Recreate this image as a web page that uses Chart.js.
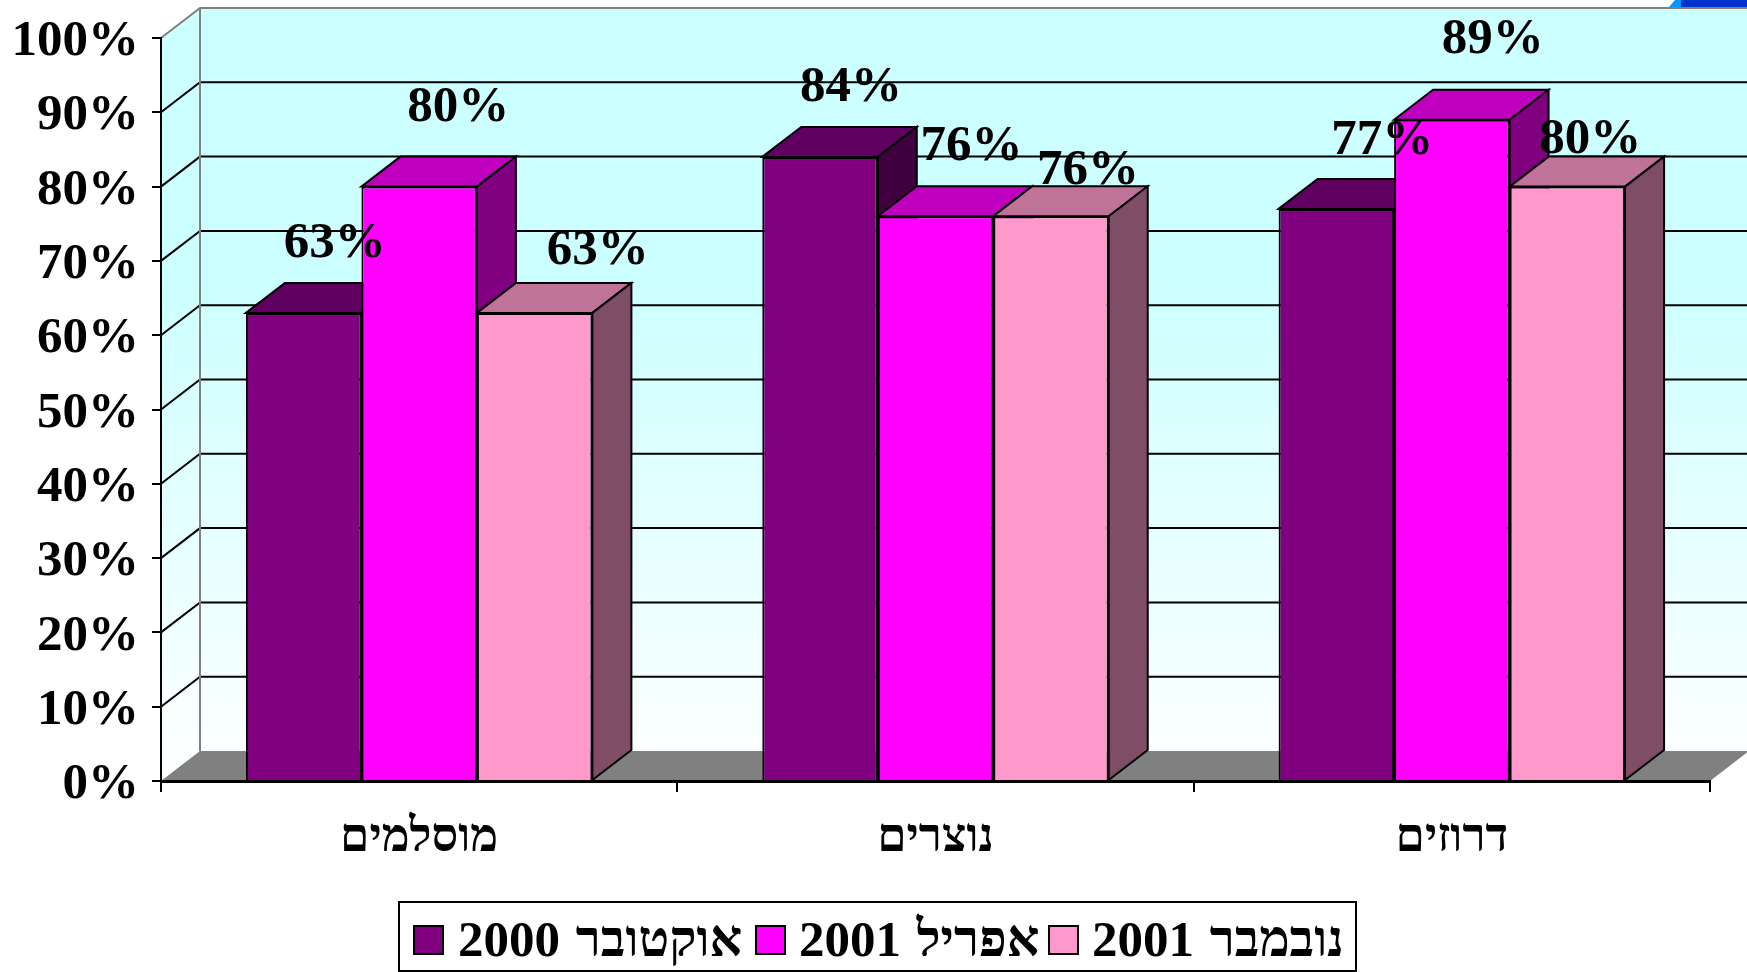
<!DOCTYPE html>
<html lang="he">
<head>
<meta charset="utf-8">
<title>chart</title>
<script src="https://cdn.jsdelivr.net/npm/chart.js@4"></script>
<style>
  html, body { margin: 0; background: #fff; overflow: hidden; }
  canvas { display: block; }
</style>
</head>
<body>
<canvas id="chart" width="1747" height="972"></canvas>
<script>
const categories = ['מוסלמים', 'נוצרים', 'דרוזים'];
const seriesNames = ['אוקטובר 2000', 'אפריל 2001', 'נובמבר 2001'];
const october2000 = [63, 84, 77];
const april2001 = [80, 76, 89];
const november2001 = [63, 76, 80];
const yTicks = [0, 10, 20, 30, 40, 50, 60, 70, 80, 90, 100];

const frontColors = ['#800080', '#ff00ff', '#ff99cc'];
const topColors = ['#600060', '#bf00bf', '#bf7399'];
const sideColors = ['#400040', '#800080', '#804d66'];

const FONT = '"Liberation Serif", "Times New Roman", serif';
const DX = 39, DY = -30;   // depth of the fake 3d

// where each value label sits, relative to the top centre of its bar
const labelOffsets = [
  [[31, -69], [31, -69], [46, -68]],
  [[39, -79], [36, -69], [41, -80]],
  [[63, -62], [37, -45], [23, -47]]
];

function poly(ctx, pts, fill, stroke, width) {
  ctx.beginPath();
  pts.forEach((p, i) => i ? ctx.lineTo(p[0], p[1]) : ctx.moveTo(p[0], p[1]));
  ctx.closePath();
  if (fill) { ctx.fillStyle = fill; ctx.fill(); }
  if (stroke) { ctx.strokeStyle = stroke; ctx.lineWidth = width; ctx.stroke(); }
}

const fake3d = {
  id: 'fake3d',
  // walls and floor go under the axes
  beforeDraw(chart) {
    const ctx = chart.ctx;
    const a = chart.chartArea;
    const y = chart.scales.y;

    const grad = ctx.createLinearGradient(0, a.top + DY, 0, a.bottom);
    grad.addColorStop(0, '#ccffff');
    grad.addColorStop(0.35, '#ccffff');
    grad.addColorStop(1, '#ffffff');
    poly(ctx, [[a.left, a.top], [a.left + DX, a.top + DY], [chart.width, a.top + DY],
      [chart.width, a.bottom + DY], [a.left + DX, a.bottom + DY], [a.left, a.bottom]], grad);

    // floor
    poly(ctx, [[a.left, a.bottom], [a.left + DX, a.bottom + DY], [a.right + DX, a.bottom + DY], [a.right, a.bottom]], '#808080');

    // grid on both walls
    ctx.strokeStyle = '#000';
    ctx.lineWidth = 2;
    yTicks.slice(1, -1).forEach(v => {
      const py = y.getPixelForValue(v);
      ctx.beginPath();
      ctx.moveTo(a.left, py);
      ctx.lineTo(a.left + DX, py + DY);
      ctx.lineTo(chart.width, py + DY);
      ctx.stroke();
    });

    // grey wall edges
    ctx.strokeStyle = '#808080';
    ctx.lineWidth = 2;
    ctx.beginPath();
    ctx.moveTo(a.left, a.top);
    ctx.lineTo(a.left + DX, a.top + DY);
    ctx.lineTo(chart.width, a.top + DY);
    ctx.moveTo(a.left + DX, a.top + DY);
    ctx.lineTo(a.left + DX, a.bottom + DY);
    ctx.stroke();

    // corner of the slide behind the chart
    poly(ctx, [[1669, 7], [1675, 0], [1682, 0], [1682, 7]], '#0099ff');
    poly(ctx, [[1681, 7], [1681, 0], [1747, 0], [1747, 7]], '#0033cc');
  },
  // stop the normal back-to-front order, bars have to go left to right
  beforeDatasetDraw() {
    return false;
  },
  afterDatasetsDraw(chart) {
    const ctx = chart.ctx;
    for (let d = 0; d < chart.data.datasets.length; d++) {
      chart.getDatasetMeta(d).data.forEach(bar => {
        const p = bar.getProps(['x', 'y', 'base', 'width']);
        const l = p.x - p.width / 2, r = p.x + p.width / 2;
        poly(ctx, [[l, p.y], [l + DX, p.y + DY], [r + DX, p.y + DY], [r, p.y]], topColors[d], '#000', 2);
        poly(ctx, [[r, p.y], [r + DX, p.y + DY], [r + DX, p.base + DY], [r, p.base]], sideColors[d], '#000', 2);
        bar.draw(ctx);
      });
    }
  },
  afterDraw(chart) {
    const ctx = chart.ctx;
    ctx.save();
    ctx.fillStyle = '#000';
    ctx.font = 'bold 51px ' + FONT;
    ctx.textAlign = 'center';
    ctx.textBaseline = 'middle';
    chart.data.datasets.forEach((ds, d) => {
      chart.getDatasetMeta(d).data.forEach((bar, i) => {
        const off = labelOffsets[d][i];
        ctx.fillText(ds.data[i] + '%', bar.x + off[0], bar.y + off[1]);
      });
    });

    // legend
    ctx.strokeStyle = '#000';
    ctx.lineWidth = 2;
    ctx.strokeRect(399, 902, 957, 69);
    const boxX = [414, 756, 1049];
    const textX = [458, 799, 1092];
    ctx.textAlign = 'left';
    ctx.direction = 'rtl';
    ctx.wordSpacing = '3px';
    chart.data.datasets.forEach((ds, d) => {
      ctx.fillStyle = ds.backgroundColor;
      ctx.fillRect(boxX[d], 926, 29, 28);
      ctx.strokeRect(boxX[d], 926, 29, 28);
      ctx.fillStyle = '#000';
      ctx.fillText(ds.label, textX[d], 943);
    });
    ctx.restore();
  }
};

new Chart(document.getElementById('chart'), {
  type: 'bar',
  data: {
    labels: categories,
    datasets: [
      { label: seriesNames[0], data: october2000, backgroundColor: frontColors[0] },
      { label: seriesNames[1], data: april2001, backgroundColor: frontColors[1] },
      { label: seriesNames[2], data: november2001, backgroundColor: frontColors[2] }
    ]
  },
  options: {
    responsive: false,
    animation: false,
    categoryPercentage: 0.671,
    barPercentage: 1,
    borderColor: '#000',
    borderWidth: 2,
    layout: { padding: { top: 38, right: 37 } },
    plugins: {
      legend: { display: false },
      tooltip: { enabled: false }
    },
    scales: {
      x: {
        afterFit: s => { s.height = 191; },
        border: { color: '#000', width: 3 },
        grid: { drawOnChartArea: false, tickLength: 11, color: '#000', lineWidth: 2 },
        ticks: {
          color: '#000',
          padding: 19,
          font: { family: FONT, weight: 'bold', size: 47 }
        }
      },
      y: {
        min: 0,
        max: 100,
        afterFit: s => { s.width = 161; s.paddingTop = 0; s.paddingBottom = 0; },
        afterBuildTicks: s => { s.ticks = yTicks.map(v => ({ value: v })); },
        border: { color: '#000', width: 2 },
        grid: { drawOnChartArea: false, tickLength: 9, color: '#000', lineWidth: 2 },
        ticks: {
          color: '#000',
          padding: 13,
          labelOffset: 4,
          font: { family: FONT, weight: 'bold', size: 51 },
          callback: v => v + '%'
        }
      }
    }
  },
  plugins: [fake3d]
});
</script>
</body>
</html>
